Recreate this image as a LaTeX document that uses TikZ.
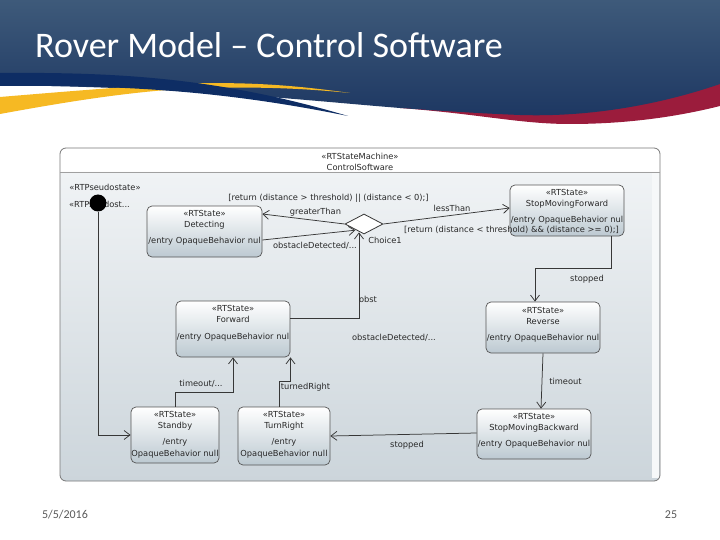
\documentclass[tikz,border=0pt]{standalone}
\usepackage{fontspec}
\setmainfont{DejaVu Sans}
\newfontfamily\carl{Carlito}
\newfontfamily\dv{DejaVu Sans}
\usetikzlibrary{arrows.meta,shapes.geometric}
\definecolor{hdrTop}{RGB}{62,90,122}
\definecolor{hdrBot}{RGB}{29,55,98}
\definecolor{navy}{RGB}{14,45,100}
\definecolor{gold}{RGB}{246,185,35}
\definecolor{crim}{RGB}{155,28,60}
\definecolor{txt}{RGB}{40,40,40}
\definecolor{ln}{RGB}{55,55,55}
\definecolor{sbord}{RGB}{85,85,85}
\definecolor{sbot}{RGB}{188,201,209}
\definecolor{pTop}{RGB}{240,243,245}
\definecolor{pBot}{RGB}{204,213,219}
\definecolor{pBord}{RGB}{120,120,120}
\definecolor{foot}{RGB}{90,90,90}
\tikzset{
  stbox/.style={draw=sbord, line width=0.7pt, rounded corners=5pt, top color=white, bottom color=sbot, inner sep=0pt},
  stxt/.style={font=\dv\fontsize{8.3}{11.5}\selectfont, text=txt, align=center, anchor=north, inner sep=0pt},
  lbl/.style={font=\dv\fontsize{8.3}{10}\selectfont, text=txt, inner sep=0pt},
  arr/.style={draw=ln, line width=0.75pt, -{Straight Barb[length=6pt,width=9pt]}},
  foottxt/.style={font=\carl\fontsize{12}{14}\selectfont, text=foot, inner sep=0pt}
}
\begin{document}
\begin{tikzpicture}[x=1pt,y=-1pt]
\useasboundingbox (0,0) rectangle (720,540);
\fill[white] (0,0) rectangle (720,540);
% ---- header ----
\fill[crim] (400,108) .. controls (480,114) and (520,124) .. (570,124)
   .. controls (630,124) and (680,116) .. (720,106) -- (720,80) -- (400,100) -- cycle;
\shade[top color=hdrTop, bottom color=hdrBot] (0,0) -- (720,0) -- (720,84)
   .. controls (650,108) and (580,117) .. (520,115)
   .. controls (470,113) and (430,110) .. (400,108)
   .. controls (300,100) and (200,88) .. (0,85) -- cycle;
\fill[gold] (0,97) .. controls (60,92) and (120,87) .. (175,84)
   .. controls (250,81) and (300,86) .. (350,93)
   .. controls (300,88) and (250,86) .. (180,89)
   .. controls (120,93) and (60,103) .. (0,114) -- cycle;
\fill[navy] (0,73) .. controls (120,72) and (220,78) .. (348,116)
   .. controls (220,90) and (120,85) .. (0,86) -- cycle;
\node[font=\carl\fontsize{36}{40}\selectfont, text=white, anchor=base west, inner sep=0pt] (title) at (35,58) {Rover Model – Control Software};
% ---- panel ----
\fill[white, rounded corners=6pt] (60,148) rectangle (660,185);
\shade[top color=pTop, bottom color=pBot] (60,172) {[rounded corners=6pt] -- (60,481) -- (660,481)} -- (660,172) -- cycle;
\fill[pTop!60!white] (652,173) rectangle (659,478);
\draw[pBord, line width=0.8pt, rounded corners=6pt] (60,148) rectangle (660,481);
\draw[pBord!70!white, line width=0.8pt] (60,172) -- (660,172);
\node[lbl] (smname1) at (360,156) {«RTStateMachine»};
\node[lbl] (smname2) at (360,167.5) {ControlSoftware};
% ---- states ----
\node[stbox, minimum width=115pt, minimum height=51pt] (det) at (204.5,231.5) {};
\node[stxt, yshift=-4pt] (detT) at (det.north) {«RTState»\\Detecting\\[4.5pt]/entry OpaqueBehavior nul};
\node[stbox, minimum width=114pt, minimum height=51pt] (smf) at (567,210.5) {};
\node[stxt, yshift=-4pt] (smfT) at (smf.north) {«RTState»\\StopMovingForward\\[4pt]/entry OpaqueBehavior nul};
\node[stbox, minimum width=114pt, minimum height=56pt] (fwd) at (233,329) {};
\node[stxt, yshift=-4pt] (fwdT) at (fwd.north) {«RTState»\\Forward\\[5pt]/entry OpaqueBehavior nul};
\node[stbox, minimum width=114pt, minimum height=51pt] (rev) at (543,327.5) {};
\node[stxt, yshift=-5pt] (revT) at (rev.north) {«RTState»\\Reverse\\[4.5pt]/entry OpaqueBehavior nul};
\node[stbox, minimum width=88pt, minimum height=56pt] (stb) at (175,435) {};
\node[stxt, yshift=-4pt] (stbT) at (stb.north) {«RTState»\\Standby\\[4.5pt]/entry\\OpaqueBehavior null};
\node[stbox, minimum width=92pt, minimum height=58pt] (trn) at (284,436) {};
\node[stxt, yshift=-4pt] (trnT) at (trn.north) {«RTState»\\TurnRight\\[4.5pt]/entry\\OpaqueBehavior null};
\node[stbox, minimum width=114pt, minimum height=50pt] (smb) at (534,434) {};
\node[stxt, yshift=-4pt] (smbT) at (smb.north) {«RTState»\\StopMovingBackward\\[4.5pt]/entry OpaqueBehavior nul};
% ---- choice and initial ----
\node[diamond, draw=ln, line width=0.8pt, fill=white, minimum width=38pt, minimum height=20pt, inner sep=0pt] (ch) at (364,224) {};
\node[lbl] (chL) at (385,240.5) {Choice1};
\node[lbl] (pst1) at (105,187.5) {«RTPseudostate»};
\node[lbl] (pst2) at (99.5,204) {«RTPseudost...};
\node[circle, fill=black, minimum size=17pt, inner sep=0pt] (init) at (98,203) {};
% ---- transitions ----
\draw[arr] (init.south) |- (stb.west);
\draw[arr] ([yshift=-8.5pt]det.east) -- ([xshift=1pt,yshift=-1pt]ch.south west);
\draw[arr] (ch.west) -- ([yshift=17.5pt]det.east);
\draw[arr] (ch.east) -- ([yshift=2.5pt]smf.west);
\draw[arr] ([xshift=44pt]smf.south) -- ++(0,32) -| ([xshift=-8pt]rev.north);
\draw[arr] ([yshift=11pt]fwd.east) -| ([xshift=-5pt,yshift=2pt]ch.south);
\draw[arr] (rev.south) -- ([xshift=7pt]smb.north);
\draw[arr] ([yshift=1pt]smb.west) -- (trn.east);
\draw[arr] (stb.north) -- ++(0,-14) -| (fwd.south);
\draw[arr] ([xshift=-5pt]trn.north) -- ++(0,-25) -| ([xshift=57.5pt]fwd.south);
% ---- labels ----
\node[lbl] (g1) at (328.5,198) {[return (distance > threshold) || (distance < 0);]};
\node[lbl] (gt) at (315.5,212) {greaterThan};
\node[lbl] (od1) at (315,246) {obstacleDetected/...};
\node[lbl] (lt) at (452,208) {lessThan};
\node[lbl] (g2) at (511.5,229.5) {[return (distance < threshold) \&\& (distance >= 0);]};
\node[lbl] (sp1) at (587,279.5) {stopped};
\node[lbl] (ob) at (368,299) {obst};
\node[lbl] (od2) at (394,338) {obstacleDetected/...};
\node[lbl] (to1) at (565.5,381.5) {timeout};
\node[lbl] (sp2) at (407,445) {stopped};
\node[lbl] (to2) at (201,384) {timeout/...};
\node[lbl] (tr) at (305.5,387.5) {turnedRight};
% ---- footer ----
\node[foottxt] (date) at (65,515) {5/5/2016};
\node[foottxt] (page) at (671,515) {25};
\end{tikzpicture}
\end{document}
